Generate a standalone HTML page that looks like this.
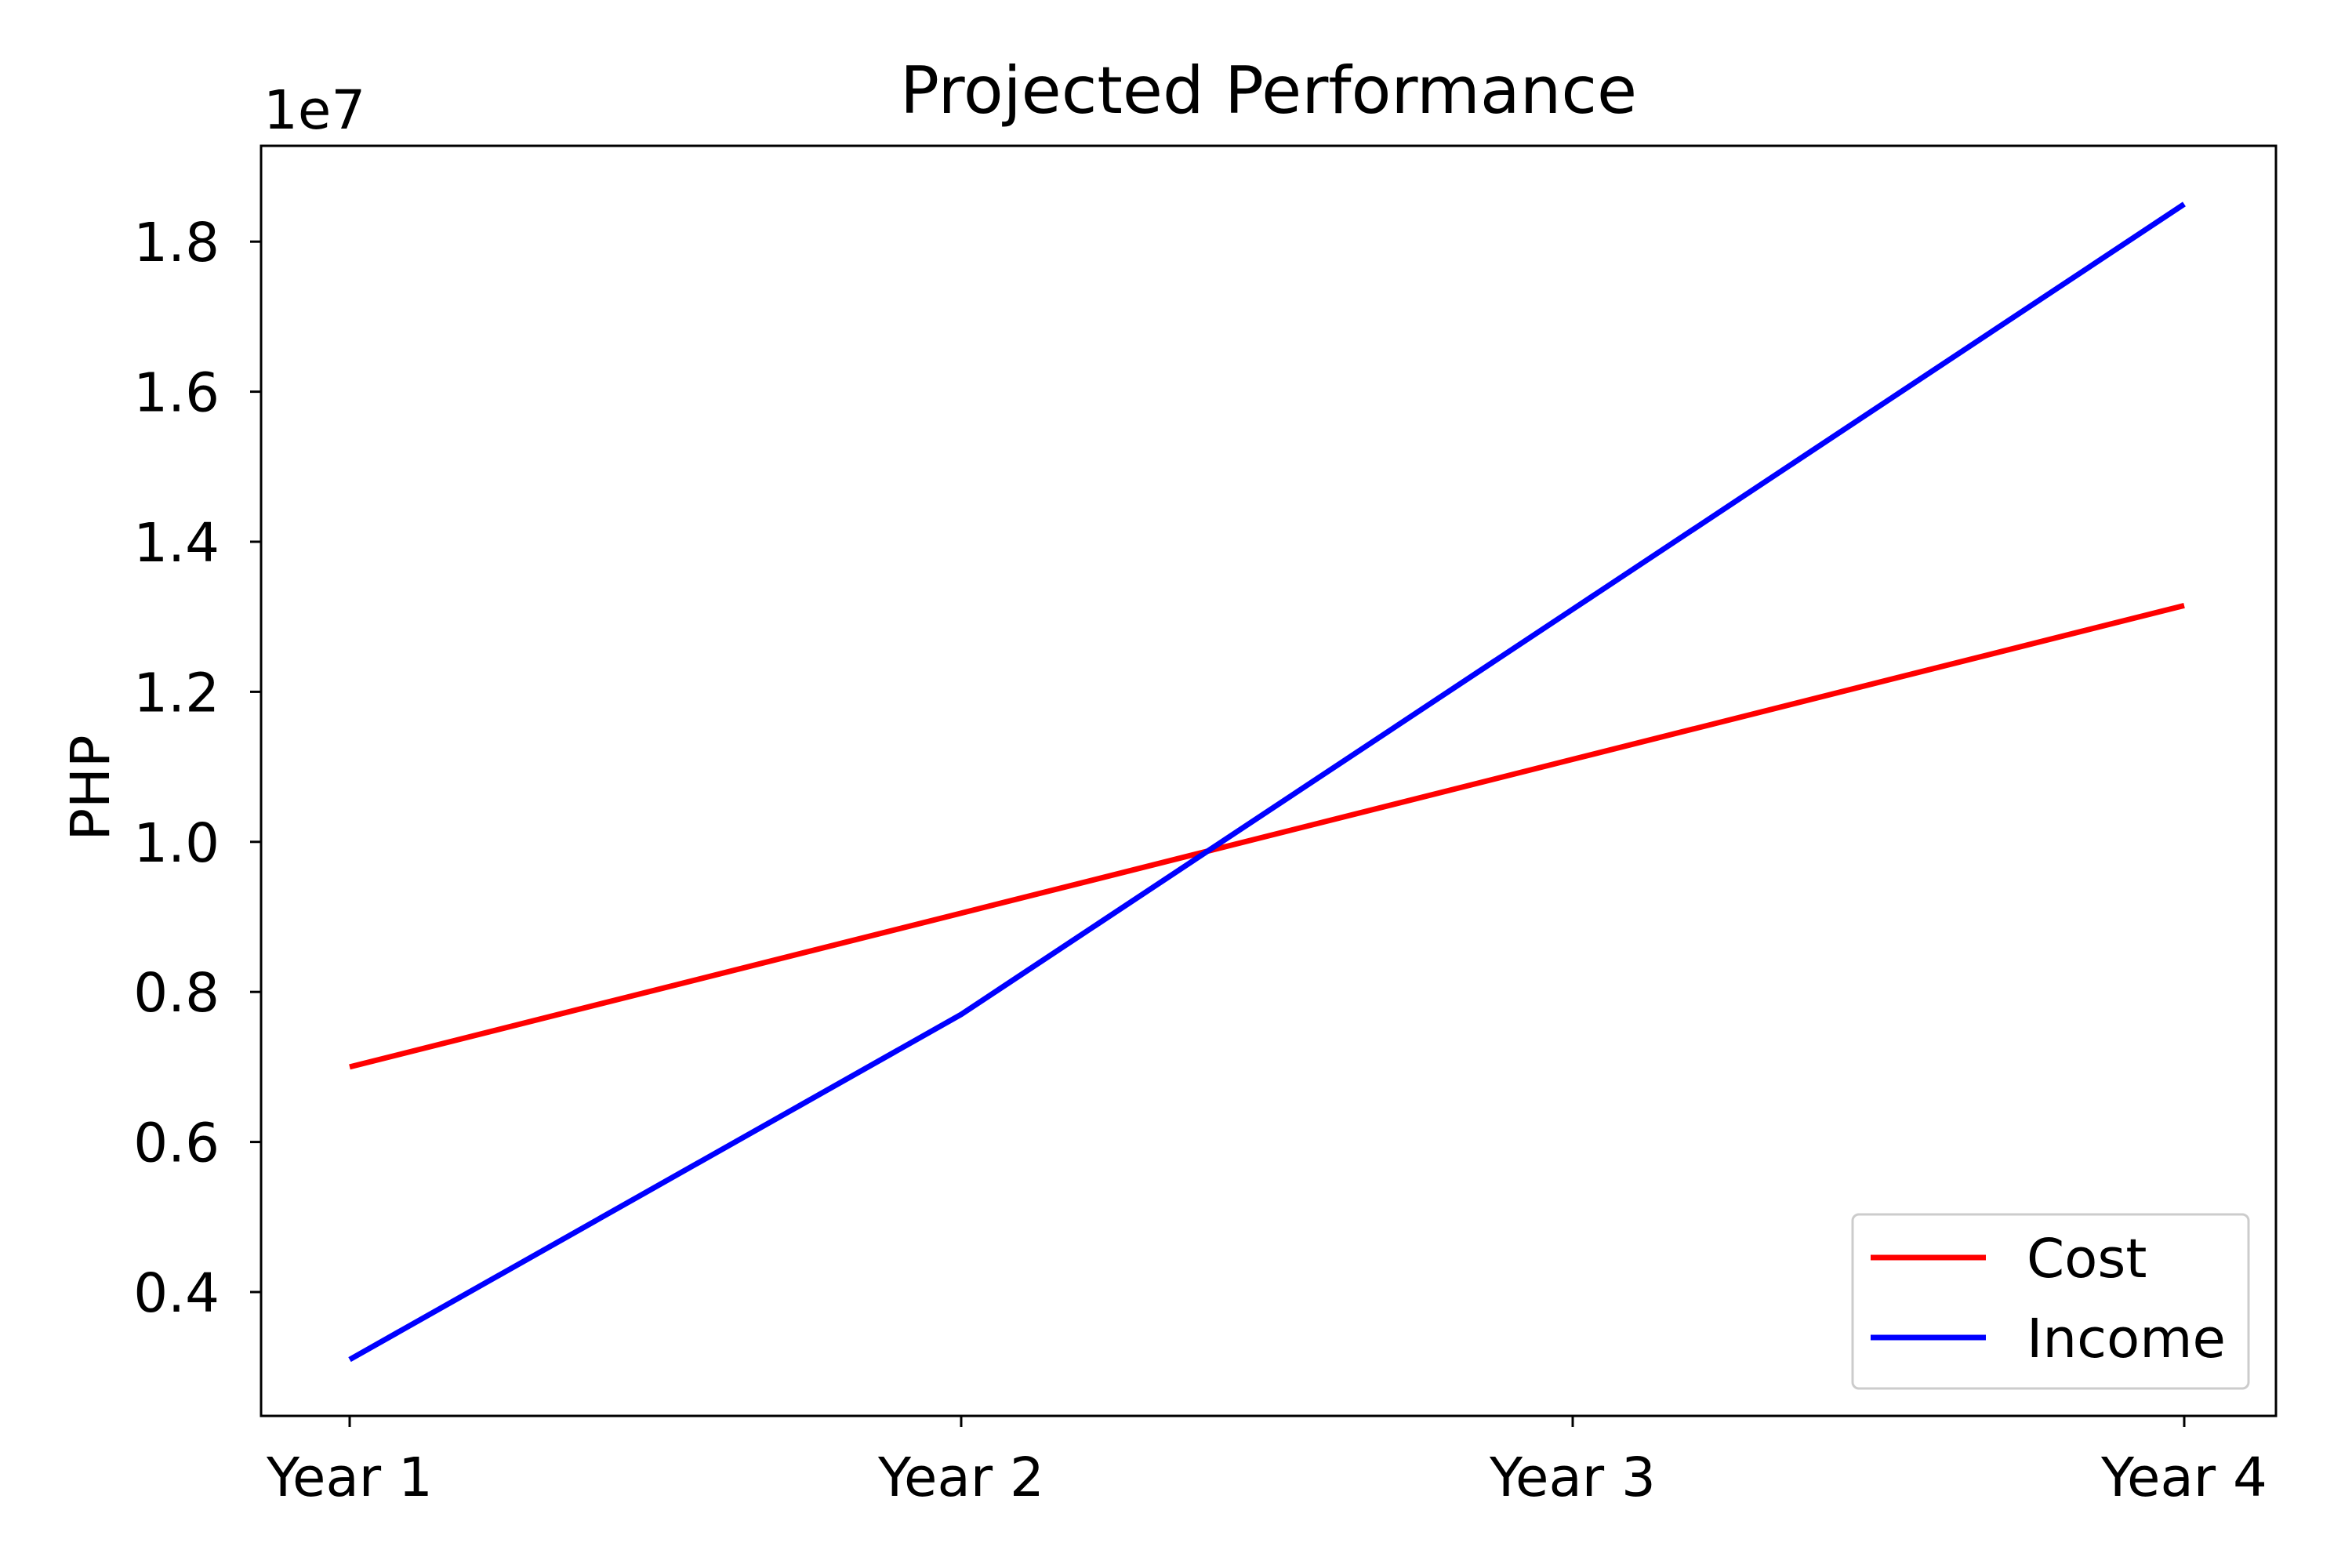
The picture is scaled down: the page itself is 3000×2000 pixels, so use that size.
<!DOCTYPE html>
<html><head><meta charset="utf-8"><style>body{margin:0;background:#fff}svg{display:block}text{font-family:"DejaVu Sans","Liberation Sans",sans-serif;fill:#000}</style></head>
<body>
<svg id="chart" width="3000" height="2000" viewBox="0 0 3000 2000" xmlns="http://www.w3.org/2000/svg">
<rect width="3000" height="2000" fill="#fff"/>
<g id="g"></g>
</svg>
<script>
const categories=["Year 1","Year 2","Year 3","Year 4"];
const costValues=[7.0e6,9.05e6,11.1e6,13.15e6];
const incomeValues=[3.1e6,7.7e6,13.1e6,18.5e6];
const yTicks=[0.4e7,0.6e7,0.8e7,1.0e7,1.2e7,1.4e7,1.6e7,1.8e7];
const yTickLabels=["0.4","0.6","0.8","1.0","1.2","1.4","1.6","1.8"];
const NS="http://www.w3.org/2000/svg";
const g=document.getElementById('g');
const L=333,R=2903,T=186,B=1806;
function x(i){return 446+i*780;}
function y(v){return 1648-(v/1e7-0.4)/0.2*191.4;}
function mk(t,a,txt){const e=document.createElementNS(NS,t);for(const k in a)e.setAttribute(k,a[k]);if(txt!==undefined)e.textContent=txt;g.appendChild(e);return e;}
let e;
e=mk('text',{x:1618,y:144,'font-size':83,'text-anchor':'middle'},'Projected Performance');


e=mk('text',{x:336,y:164,'font-size':69},'1e7');


e=mk('text',{x:0,y:0,'font-size':69,'text-anchor':'middle',transform:'translate(139,1005) rotate(-90)'},'PHP');


yTicks.forEach((v,i)=>{
  e=mk('line',{x1:L-14,x2:L,y1:y(v),y2:y(v),stroke:'#000','stroke-width':3});
  
  
  e=mk('text',{x:280,y:y(v)+25,'font-size':69,'text-anchor':'end'},yTickLabels[i]);
  
  
});
categories.forEach((c,i)=>{
  e=mk('line',{x1:x(i),x2:x(i),y1:B,y2:B+14,stroke:'#000','stroke-width':3});
  
  
  e=mk('text',{x:x(i),y:1908,'font-size':69,'text-anchor':'middle'},c);
  
  
});
function series(vals,color,name){
  const p=vals.map((v,i)=>x(i)+','+y(v)).join(' ');
  const s=mk('polyline',{points:p,fill:'none',stroke:color,'stroke-width':7});
  
  
}
series(costValues,'#ff0000','cost-line');
series(incomeValues,'#0000ff','income-line');
e=mk('rect',{x:L,y:T,width:R-L,height:B-T,fill:'none',stroke:'#000','stroke-width':3});


e=mk('rect',{x:2363,y:1549,width:505,height:222,rx:8,fill:'#fff','fill-opacity':0.8,stroke:'#ccc','stroke-width':3});


e=mk('line',{x1:2386,x2:2533,y1:1604,y2:1604,stroke:'#ff0000','stroke-width':7});


e=mk('text',{x:2585,y:1629,'font-size':69},'Cost');


e=mk('line',{x1:2386,x2:2533,y1:1706,y2:1706,stroke:'#0000ff','stroke-width':7});


e=mk('text',{x:2585,y:1731,'font-size':69},'Income');


</script>
</body></html>
